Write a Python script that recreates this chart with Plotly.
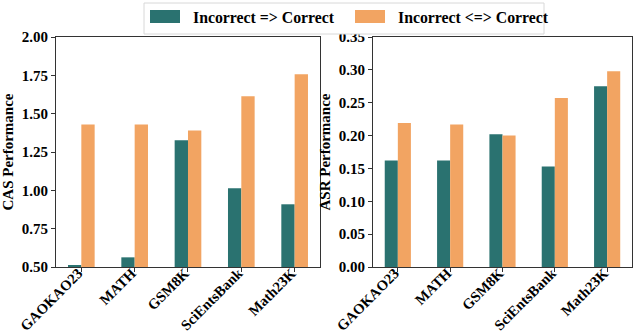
import plotly.graph_objects as go
from plotly.subplots import make_subplots

categories = ["GAOKAO23", "MATH", "GSM8K", "SciEntsBank", "Math23K"]
series_names = ["Incorrect => Correct", "Incorrect <=> Correct"]
cas_one_way = [0.511, 0.563, 1.326, 1.013, 0.909]
cas_two_way = [1.430, 1.430, 1.391, 1.613, 1.757]
asr_one_way = [0.162, 0.162, 0.202, 0.153, 0.275]
asr_two_way = [0.219, 0.217, 0.200, 0.257, 0.298]
cas_ticks = [0.50, 0.75, 1.00, 1.25, 1.50, 1.75, 2.00]
asr_ticks = [0.00, 0.05, 0.10, 0.15, 0.20, 0.25, 0.30, 0.35]

TEAL = "#2A7270"
ORANGE = "#F2A462"
FONT = "Liberation Serif"
BW = 0.25

fig = make_subplots(rows=1, cols=2, horizontal_spacing=0.09)

xs = list(range(len(categories)))
for col, (a, b) in enumerate([(cas_one_way, cas_two_way), (asr_one_way, asr_two_way)], start=1):
    base = 0.5 if col == 1 else 0.0
    fig.add_trace(go.Bar(x=[x - BW / 2 for x in xs], y=[v - base for v in a], base=base,
                         width=BW, marker_color=TEAL, marker_line_width=0,
                         name=series_names[0], showlegend=False), row=1, col=col)
    fig.add_trace(go.Bar(x=[x + BW / 2 for x in xs], y=[v - base for v in b], base=base,
                         width=BW, marker_color=ORANGE, marker_line_width=0,
                         name=series_names[1], showlegend=False), row=1, col=col)

def b(s):
    return "<b>" + s + "</b>"

axis_common = dict(showline=True, linecolor="#333", linewidth=1, mirror=True,
                   ticks="outside", ticklen=4, tickcolor="#333", showgrid=False,
                   zeroline=False, automargin=False)
for col in (1, 2):
    fig.update_xaxes(tickmode="array", tickvals=xs, ticktext=[b(c) for c in categories], tickangle=-45,
                     range=[-0.475, 4.475], ticklabelstandoff=-13, ticklabelshift=-3,
                     tickfont=dict(family=FONT, size=14.6, color="black"),
                     row=1, col=col, **axis_common)
fig.update_yaxes(range=[0.5, 2.0], tickmode="array", tickvals=cas_ticks,
                 ticktext=[b(f"{t:.2f}") for t in cas_ticks],
                 tickfont=dict(family=FONT, size=15, color="black"),
                 title=dict(text=b("CAS Performance"), font=dict(family=FONT, size=15, color="black"), standoff=4),
                 row=1, col=1, **axis_common)
fig.update_yaxes(range=[0.0, 0.35], tickmode="array", tickvals=asr_ticks,
                 ticktext=[b(f"{t:.2f}") for t in asr_ticks],
                 tickfont=dict(family=FONT, size=15, color="black"),
                 title=dict(text=b("ASR Performance"), font=dict(family=FONT, size=15, color="black"), standoff=4),
                 row=1, col=2, **axis_common)

fig.update_layout(
    barmode="overlay",
    width=634, height=336,
    margin=dict(l=56, r=2, t=37, b=69),
    plot_bgcolor="white", paper_bgcolor="white",
    font=dict(family=FONT, size=14, color="black"),
)
fig.update_xaxes(domain=[0.0, 0.4583], row=1, col=1)
fig.update_xaxes(domain=[0.5503, 1.0], row=1, col=2)

def px_x(p):
    return (p - 56) / 576
def px_y(p):
    return 1 - (p - 37) / 230

shapes = [
    dict(type="rect", xref="paper", yref="paper", x0=px_x(144), x1=px_x(544),
         y0=px_y(34), y1=px_y(3), line=dict(color="#d8d8d8", width=1), fillcolor="white", layer="above"),
    dict(type="rect", xref="paper", yref="paper", x0=px_x(150), x1=px_x(180),
         y0=px_y(23), y1=px_y(10), line=dict(width=0), fillcolor=TEAL, layer="above"),
    dict(type="rect", xref="paper", yref="paper", x0=px_x(355), x1=px_x(385),
         y0=px_y(23), y1=px_y(10), line=dict(width=0), fillcolor=ORANGE, layer="above"),
]
def esc(s):
    return s.replace("<", "&lt;").replace(">", "&gt;")
annotations = [
    dict(text=b(esc(series_names[0])), xref="paper", yref="paper",
         x=px_x(191), y=px_y(17), xanchor="left", yanchor="middle", showarrow=False,
         font=dict(family=FONT, size=15.8, color="black")),
    dict(text=b(esc(series_names[1])), xref="paper", yref="paper",
         x=px_x(396), y=px_y(17), xanchor="left", yanchor="middle", showarrow=False,
         font=dict(family=FONT, size=15.8, color="black")),
]
fig.update_layout(shapes=shapes, annotations=annotations)

fig.write_html("out.html", config={"displayModeBar": False},
               post_script="document.body.style.margin='0';document.body.style.padding='0';")
